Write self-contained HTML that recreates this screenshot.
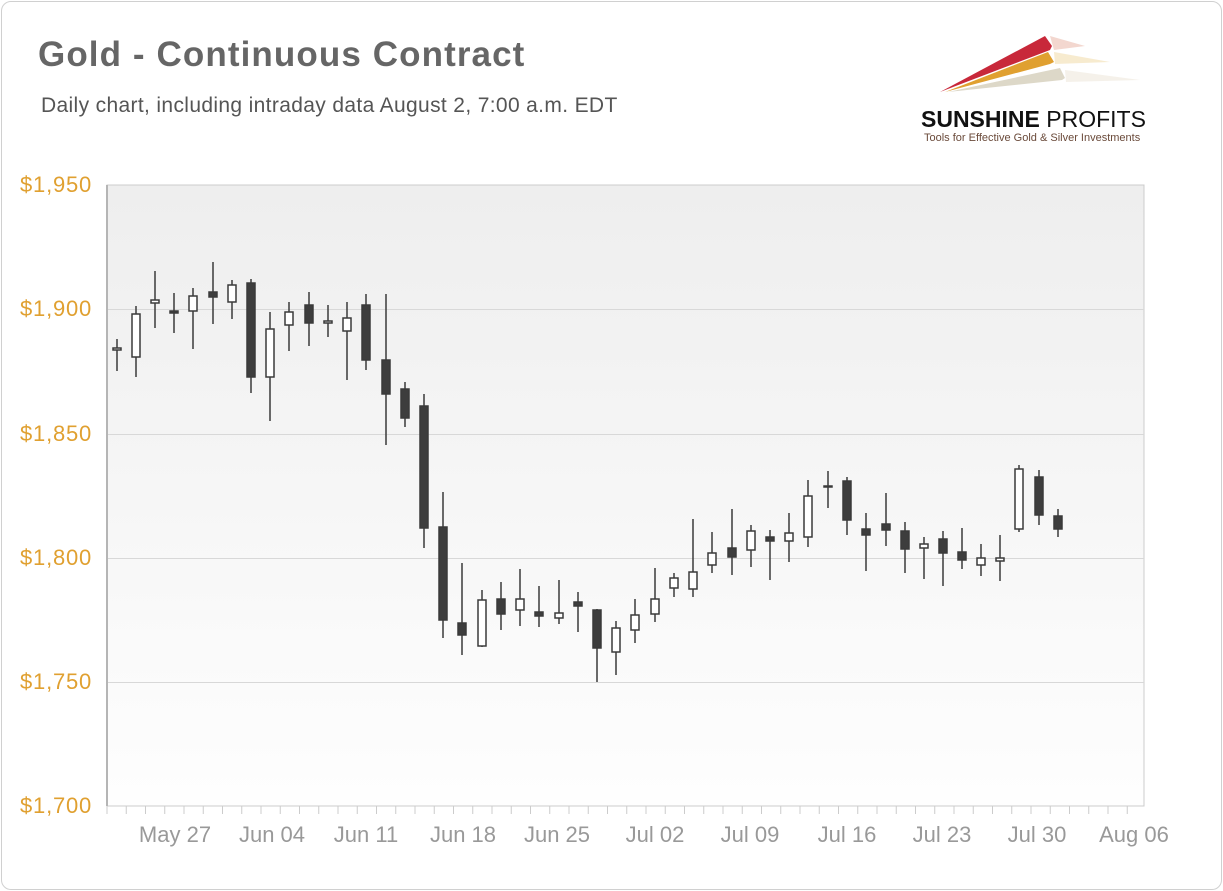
<!DOCTYPE html>
<html><head><meta charset="utf-8"><style>
html,body{margin:0;padding:0;background:#fff;}
body{width:1223px;height:891px;position:relative;overflow:hidden;font-family:"Liberation Sans",sans-serif;}
.frame{position:absolute;left:1px;top:1px;width:1219px;height:887px;border:1px solid #d0d0d0;border-radius:10px;}
.t{position:absolute;left:38px;top:35px;font-size:35px;font-weight:bold;color:#666;letter-spacing:1.1px;}
.s{position:absolute;left:41px;top:94px;font-size:21px;color:#555;letter-spacing:0.35px;}
.ya{position:absolute;left:20px;font-size:22px;color:#e0a030;letter-spacing:0.8px;}
.xa{position:absolute;top:822px;font-size:22px;color:#999;transform:translateX(-50%);}
</style></head><body>
<div class="frame"></div>
<div class="t">Gold - Continuous Contract</div>
<div class="s">Daily chart, including intraday data August 2, 7:00 a.m. EDT</div>
<div class="ya" style="top:172px">$1,950</div>
<div class="ya" style="top:296px">$1,900</div>
<div class="ya" style="top:421px">$1,850</div>
<div class="ya" style="top:545px">$1,800</div>
<div class="ya" style="top:669px">$1,750</div>
<div class="ya" style="top:793px">$1,700</div>
<div class="xa" style="left:175px">May 27</div>
<div class="xa" style="left:272px">Jun 04</div>
<div class="xa" style="left:366px">Jun 11</div>
<div class="xa" style="left:463px">Jun 18</div>
<div class="xa" style="left:557px">Jun 25</div>
<div class="xa" style="left:655px">Jul 02</div>
<div class="xa" style="left:750px">Jul 09</div>
<div class="xa" style="left:847px">Jul 16</div>
<div class="xa" style="left:942px">Jul 23</div>
<div class="xa" style="left:1037px">Jul 30</div>
<div class="xa" style="left:1134px">Aug 06</div>
<svg width="1223" height="891" style="position:absolute;left:0;top:0">
<defs><linearGradient id="bg" x1="0" y1="0" x2="0" y2="1"><stop offset="0" stop-color="#eeeeee"/><stop offset="1" stop-color="#fefefe"/></linearGradient></defs>
<rect x="107" y="185" width="1037" height="621" fill="url(#bg)" stroke="#ccc"/>
<g stroke="#d8d8d8" stroke-width="1"><line x1="107" x2="1144" y1="309.5" y2="309.5"/><line x1="107" x2="1144" y1="434.5" y2="434.5"/><line x1="107" x2="1144" y1="558.5" y2="558.5"/><line x1="107" x2="1144" y1="682.5" y2="682.5"/></g>
<line x1="107" y1="185" x2="107" y2="806" stroke="#b5b5b5" stroke-width="2"/>
<line x1="106.5" y1="810" x2="1145" y2="810" stroke="#ccc" stroke-width="8" stroke-dasharray="1 18.25"/>
<polygon points="940,92 1045,36 1052,46 1050,50" fill="#c8283a"/>
<polygon points="1050,36 1085,46 1054,50" fill="#e8b0a0" opacity="0.5"/>
<polygon points="945,92 1048,52 1054,62 1050,64" fill="#e0a030"/>
<polygon points="1054,52 1110,62 1055,64" fill="#f0d8a0" opacity="0.5"/>
<polygon points="948,92 1060,68 1065,78 1062,80" fill="#ddd8c8"/>
<polygon points="1065,70 1140,80 1066,82" fill="#eee8dc" opacity="0.6"/>
<text x="921" y="127" font-family="Liberation Sans,sans-serif" font-size="23" font-weight="bold" fill="#111">SUNSHINE <tspan font-weight="normal">PROFITS</tspan></text>
<text x="924" y="141" font-family="Liberation Sans,sans-serif" font-size="11" fill="#6a4a3a">Tools for Effective Gold &amp; Silver Investments</text>
<g stroke="#3a3a3a" stroke-width="1.5">
<line x1="117" y1="339" x2="117" y2="371"/><rect x="113" y="348" width="8" height="2" fill="#fff"/>
<line x1="136" y1="306" x2="136" y2="377"/><rect x="132" y="314" width="8" height="43" fill="#fff"/>
<line x1="155" y1="271" x2="155" y2="328"/><rect x="151" y="300" width="8" height="3" fill="#fff"/>
<line x1="174" y1="293" x2="174" y2="333"/><rect x="170" y="311" width="8" height="2" fill="#3d3d3d"/>
<line x1="193" y1="288" x2="193" y2="349"/><rect x="189" y="296" width="8" height="15" fill="#fff"/>
<line x1="213" y1="262" x2="213" y2="324"/><rect x="209" y="292" width="8" height="5" fill="#3d3d3d"/>
<line x1="232" y1="280" x2="232" y2="319"/><rect x="228" y="285" width="8" height="17" fill="#fff"/>
<line x1="251" y1="279" x2="251" y2="393"/><rect x="247" y="283" width="8" height="94" fill="#3d3d3d"/>
<line x1="270" y1="312" x2="270" y2="421"/><rect x="266" y="329" width="8" height="48" fill="#fff"/>
<line x1="289" y1="302" x2="289" y2="351"/><rect x="285" y="312" width="8" height="13" fill="#fff"/>
<line x1="309" y1="292" x2="309" y2="346"/><rect x="305" y="305" width="8" height="18" fill="#3d3d3d"/>
<line x1="328" y1="305" x2="328" y2="337"/><rect x="324" y="321" width="8" height="2" fill="#fff"/>
<line x1="347" y1="302" x2="347" y2="380"/><rect x="343" y="318" width="8" height="13" fill="#fff"/>
<line x1="366" y1="294" x2="366" y2="370"/><rect x="362" y="305" width="8" height="55" fill="#3d3d3d"/>
<line x1="386" y1="294" x2="386" y2="445"/><rect x="382" y="360" width="8" height="34" fill="#3d3d3d"/>
<line x1="405" y1="382" x2="405" y2="427"/><rect x="401" y="389" width="8" height="29" fill="#3d3d3d"/>
<line x1="424" y1="394" x2="424" y2="548"/><rect x="420" y="406" width="8" height="122" fill="#3d3d3d"/>
<line x1="443" y1="492" x2="443" y2="638"/><rect x="439" y="527" width="8" height="93" fill="#3d3d3d"/>
<line x1="462" y1="563" x2="462" y2="655"/><rect x="458" y="623" width="8" height="12" fill="#3d3d3d"/>
<line x1="482" y1="590" x2="482" y2="647"/><rect x="478" y="600" width="8" height="46" fill="#fff"/>
<line x1="501" y1="582" x2="501" y2="630"/><rect x="497" y="599" width="8" height="15" fill="#3d3d3d"/>
<line x1="520" y1="569" x2="520" y2="626"/><rect x="516" y="599" width="8" height="11" fill="#fff"/>
<line x1="539" y1="586" x2="539" y2="627"/><rect x="535" y="612" width="8" height="4" fill="#3d3d3d"/>
<line x1="559" y1="580" x2="559" y2="624"/><rect x="555" y="613" width="8" height="5" fill="#fff"/>
<line x1="578" y1="592" x2="578" y2="632"/><rect x="574" y="602" width="8" height="4" fill="#3d3d3d"/>
<line x1="597" y1="609" x2="597" y2="682"/><rect x="593" y="610" width="8" height="38" fill="#3d3d3d"/>
<line x1="616" y1="621" x2="616" y2="675"/><rect x="612" y="628" width="8" height="24" fill="#fff"/>
<line x1="635" y1="599" x2="635" y2="643"/><rect x="631" y="615" width="8" height="15" fill="#fff"/>
<line x1="655" y1="568" x2="655" y2="622"/><rect x="651" y="599" width="8" height="15" fill="#fff"/>
<line x1="674" y1="573" x2="674" y2="597"/><rect x="670" y="578" width="8" height="10" fill="#fff"/>
<line x1="693" y1="519" x2="693" y2="597"/><rect x="689" y="572" width="8" height="17" fill="#fff"/>
<line x1="712" y1="532" x2="712" y2="573"/><rect x="708" y="553" width="8" height="12" fill="#fff"/>
<line x1="732" y1="509" x2="732" y2="575"/><rect x="728" y="548" width="8" height="9" fill="#3d3d3d"/>
<line x1="751" y1="525" x2="751" y2="567"/><rect x="747" y="531" width="8" height="19" fill="#fff"/>
<line x1="770" y1="530" x2="770" y2="580"/><rect x="766" y="537" width="8" height="4" fill="#3d3d3d"/>
<line x1="789" y1="513" x2="789" y2="562"/><rect x="785" y="533" width="8" height="8" fill="#fff"/>
<line x1="808" y1="480" x2="808" y2="547"/><rect x="804" y="496" width="8" height="41" fill="#fff"/>
<line x1="828" y1="471" x2="828" y2="508"/><rect x="824" y="486" width="8" height="1" fill="#3d3d3d"/>
<line x1="847" y1="477" x2="847" y2="535"/><rect x="843" y="481" width="8" height="39" fill="#3d3d3d"/>
<line x1="866" y1="513" x2="866" y2="571"/><rect x="862" y="529" width="8" height="6" fill="#3d3d3d"/>
<line x1="886" y1="493" x2="886" y2="546"/><rect x="882" y="524" width="8" height="6" fill="#3d3d3d"/>
<line x1="905" y1="522" x2="905" y2="573"/><rect x="901" y="531" width="8" height="18" fill="#3d3d3d"/>
<line x1="924" y1="537" x2="924" y2="579"/><rect x="920" y="544" width="8" height="4" fill="#fff"/>
<line x1="943" y1="531" x2="943" y2="586"/><rect x="939" y="539" width="8" height="14" fill="#3d3d3d"/>
<line x1="962" y1="528" x2="962" y2="569"/><rect x="958" y="552" width="8" height="8" fill="#3d3d3d"/>
<line x1="981" y1="544" x2="981" y2="576"/><rect x="977" y="558" width="8" height="7" fill="#fff"/>
<line x1="1000" y1="535" x2="1000" y2="581"/><rect x="996" y="558" width="8" height="3" fill="#fff"/>
<line x1="1019" y1="465" x2="1019" y2="532"/><rect x="1015" y="469" width="8" height="60" fill="#fff"/>
<line x1="1039" y1="470" x2="1039" y2="525"/><rect x="1035" y="477" width="8" height="38" fill="#3d3d3d"/>
<line x1="1058" y1="509" x2="1058" y2="537"/><rect x="1054" y="516" width="8" height="13" fill="#3d3d3d"/>
</g>
</svg>
</body></html>
